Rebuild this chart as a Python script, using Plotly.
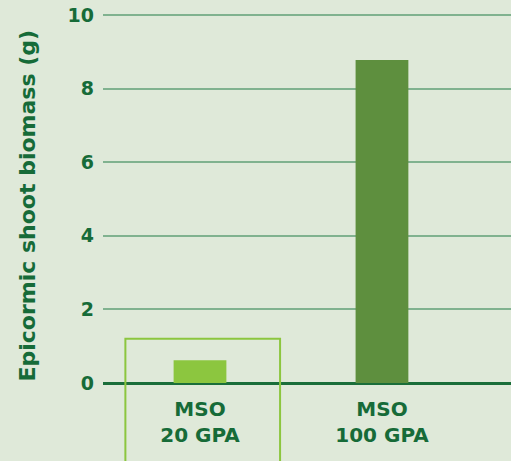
import plotly.graph_objects as go

categories = ["MSO<br>20 GPA", "MSO<br>100 GPA"]
biomass = [0.62, 8.78]
bar_colors = ["#8cc63f", "#5e8f3e"]
y_ticks = [0, 2, 4, 6, 8, 10]
y_title = "Epicormic shoot biomass (g)"

BG = "#dfe9d9"
TEXT = "#166b38"
FONT = "DejaVu Sans"

x_range = [-0.533, 1.709]
y_range = [0, 10.03]

fig = go.Figure(
    go.Bar(
        x=[0, 1],
        y=biomass,
        marker=dict(color=bar_colors, line=dict(width=0)),
        width=0.29,
    )
)

# paper coordinates derived from the data ranges
def px(xv):
    return (xv - x_range[0]) / (x_range[1] - x_range[0])

def py(yv):
    return (yv - y_range[0]) / (y_range[1] - y_range[0])

# highlight frame around the first treatment
fig.add_shape(
    type="rect", xref="paper", yref="paper",
    x0=px(-0.41), x1=px(0.44), y0=py(-3.0), y1=py(1.2),
    line=dict(color="#8cc63f", width=2), fillcolor="rgba(0,0,0,0)", layer="above",
)

# rotated y-axis title
fig.add_annotation(
    text=y_title, textangle=-90, xref="paper", yref="paper",
    x=0, y=0.481, xanchor="center", yanchor="middle", xshift=-75,
    showarrow=False,
    font=dict(size=22, family=FONT, color=TEXT, weight="bold"),
)

fig.update_layout(
    width=511, height=461,
    margin=dict(l=103, r=0, t=14, b=78),
    paper_bgcolor=BG, plot_bgcolor=BG,
    showlegend=False,
    font=dict(family=FONT, color=TEXT),
    xaxis=dict(
        range=x_range, tickmode="array", tickvals=[0, 1], ticktext=categories,
        showgrid=False, zeroline=False, showline=False, ticks="",
        tickfont=dict(size=20, family=FONT, color=TEXT, weight="bold"),
        ticklabelstandoff=12,
    ),
    yaxis=dict(
        range=y_range, tickmode="array", tickvals=y_ticks,
        showgrid=True, gridcolor="#80b28f", gridwidth=2,
        zeroline=True, zerolinecolor="#1a6e3a", zerolinewidth=2.5,
        showline=False, ticks="",
        tickfont=dict(size=19, family=FONT, color=TEXT, weight="bold"),
        ticklabelstandoff=8,
    ),
)

fig.write_html("out.html")
